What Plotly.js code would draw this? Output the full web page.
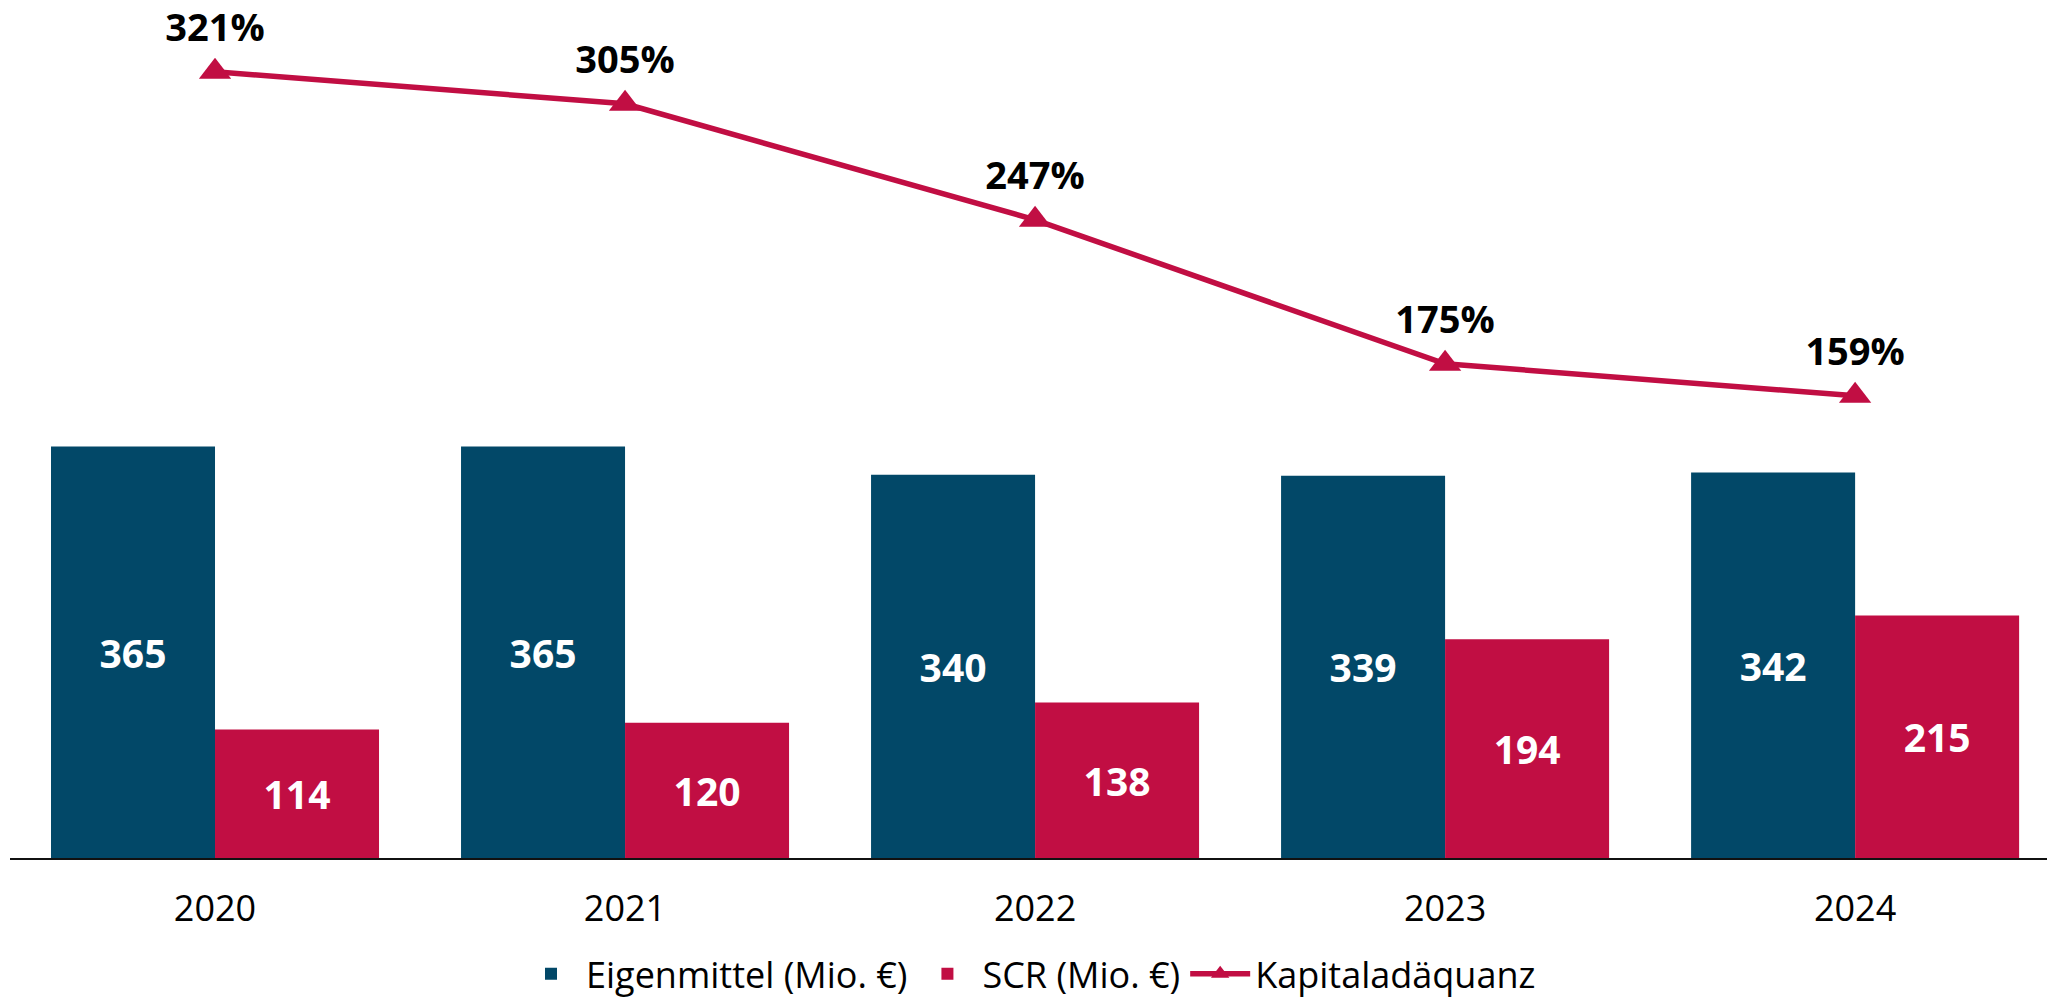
<!DOCTYPE html>
<html>
<head>
<meta charset="utf-8">
<script src="https://cdn.plot.ly/plotly-3.0.1.min.js"></script>
<style>
  html, body { margin: 0; padding: 0; background: #fff; }
  #myDiv { width: 2047px; height: 999px; }
</style>
</head>
<body>
<div id="myDiv"></div>
<script>
var years = ["2020", "2021", "2022", "2023", "2024"];
var eigenmittel = [365, 365, 340, 339, 342];
var scr = [114, 120, 138, 194, 215];
var kapitalquote = [321, 305, 247, 175, 159];

var blue = "rgb(2,72,104)";
var red = "rgb(193,14,67)";
var font = "Open Sans, Noto Sans, sans-serif";

var eigenBars = {
  x: years,
  y: eigenmittel,
  type: "bar",
  name: "Eigenmittel (Mio. €)",
  marker: {color: blue},
  text: eigenmittel.map(String),
  textposition: "inside",
  insidetextanchor: "middle",
  textfont: {color: "#fff", size: 39, family: font, weight: "bold"},
  hoverinfo: "skip"
};

var scrBars = {
  x: years,
  y: scr,
  type: "bar",
  name: "SCR (Mio. €)",
  marker: {color: red},
  text: scr.map(String),
  textposition: "inside",
  insidetextanchor: "middle",
  textfont: {color: "#fff", size: 39, family: font, weight: "bold"},
  hoverinfo: "skip"
};

var quoteLine = {
  x: years,
  y: kapitalquote,
  yaxis: "y2",
  type: "scatter",
  mode: "lines+markers",
  name: "Kapitaladäquanz",
  line: {color: red, width: 5.5},
  marker: {symbol: "triangle-up", size: 28, color: red},
  cliponaxis: false,
  hoverinfo: "skip"
};

// percentage labels sit a little higher above the markers than plotly's default
var quoteLabels = {
  x: years,
  y: kapitalquote,
  yaxis: "y2",
  type: "scatter",
  mode: "markers+text",
  showlegend: false,
  marker: {size: 33, opacity: 0},
  text: kapitalquote.map(function(v) { return v + "%"; }),
  textposition: "top center",
  textfont: {color: "#000", size: 38, family: font, weight: "bold"},
  cliponaxis: false,
  hoverinfo: "skip"
};

var data = [eigenBars, scrBars, quoteLine, quoteLabels];

var layout = {
  width: 2047,
  height: 999,
  margin: {l: 10, r: 0, t: 0, b: 141, autoexpand: false},
  paper_bgcolor: "#fff",
  plot_bgcolor: "#fff",
  font: {family: font, size: 36, color: "#000"},
  barmode: "group",
  bargap: 0.2,
  bargroupgap: 0,
  showlegend: true,
  legend: {
    orientation: "h",
    x: 0.5,
    xanchor: "center",
    y: -0.135,
    yanchor: "middle",
    font: {size: 36, family: font, color: "#000"},
    itemwidth: 60,
    traceorder: "normal"
  },
  xaxis: {
    type: "category",
    range: [-0.5, 4.468],
    showline: true,
    linecolor: "#111",
    linewidth: 2,
    ticks: "",
    showgrid: false,
    zeroline: false,
    tickfont: {size: 36, family: font, color: "#000"},
    ticklabelstandoff: 18
  },
  yaxis: {
    range: [0, 761],
    visible: false,
    showgrid: false,
    zeroline: false
  },
  yaxis2: {
    range: [-72.1, 356.9],
    overlaying: "y",
    side: "right",
    visible: false,
    showgrid: false,
    zeroline: false
  }
};

Plotly.newPlot("myDiv", data, layout, {staticPlot: true});
</script>
</body>
</html>
